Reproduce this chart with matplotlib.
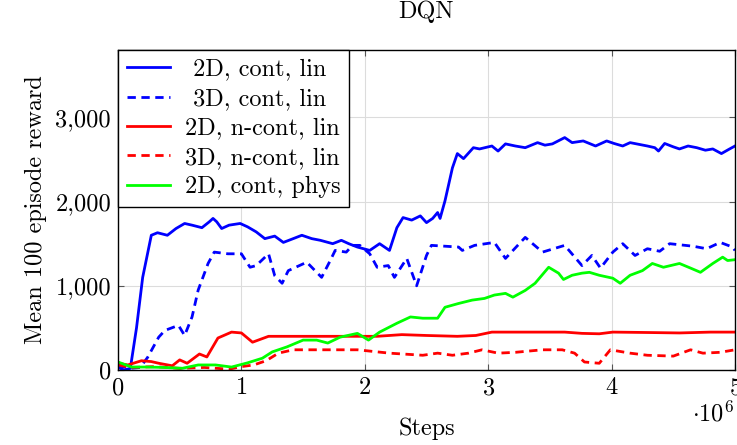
import matplotlib
matplotlib.use("Agg")
import matplotlib.pyplot as plt
from matplotlib.ticker import FuncFormatter

plt.rcParams["font.family"] = ["cmr10", "DejaVu Serif"]
plt.rcParams["mathtext.fontset"] = "cm"
plt.rcParams["axes.unicode_minus"] = False
plt.rcParams["axes.formatter.use_mathtext"] = True

# steps in millions, mean reward
blue2d_x = [0, 0.05, 0.1, 0.15, 0.2, 0.27, 0.32, 0.4, 0.47, 0.54, 0.6, 0.68, 0.74, 0.77, 0.8, 0.84,
            0.9, 0.99, 1.05, 1.12, 1.19, 1.27, 1.34, 1.42, 1.49, 1.57, 1.64, 1.74, 1.81, 1.87, 1.94,
            2.04, 2.12, 2.2, 2.26, 2.31, 2.38, 2.45, 2.5, 2.55, 2.59, 2.61, 2.65, 2.71, 2.75, 2.8,
            2.88, 2.93, 3.03, 3.08, 3.14, 3.22, 3.3, 3.4, 3.46, 3.52, 3.62, 3.68, 3.77, 3.87, 3.96,
            4.02, 4.09, 4.15, 4.22, 4.29, 4.35, 4.38, 4.43, 4.5, 4.55, 4.62, 4.69, 4.76, 4.82, 4.89,
            4.95, 5.0]
blue2d_y = [30, 0, 20, 500, 1100, 1600, 1630, 1600, 1680, 1740, 1720, 1690, 1760, 1800, 1760, 1680,
            1720, 1740, 1700, 1640, 1560, 1590, 1515, 1560, 1600, 1560, 1540, 1500, 1540, 1500, 1460,
            1420, 1500, 1420, 1690, 1810, 1780, 1830, 1750, 1800, 1870, 1800, 2010, 2400, 2570, 2510,
            2640, 2625, 2660, 2600, 2685, 2660, 2640, 2700, 2670, 2685, 2760, 2700, 2720, 2660, 2720,
            2690, 2660, 2700, 2680, 2660, 2640, 2600, 2690, 2650, 2625, 2660, 2640, 2610, 2625, 2570,
            2620, 2660]

blue3d_x = [0, 0.1, 0.18, 0.24, 0.33, 0.38, 0.49, 0.54, 0.6, 0.65, 0.73, 0.78, 0.89, 1.0, 1.07, 1.12,
            1.22, 1.27, 1.33, 1.38, 1.53, 1.65, 1.72, 1.76, 1.85, 1.9, 1.96, 2.04, 2.1, 2.19, 2.24,
            2.34, 2.42, 2.5, 2.54, 2.76, 2.79, 2.89, 3.05, 3.14, 3.3, 3.44, 3.62, 3.76, 3.84, 3.91,
            4.01, 4.09, 4.19, 4.29, 4.39, 4.47, 4.66, 4.77, 4.88, 4.98, 5.0]
blue3d_y = [50, 20, 30, 150, 390, 470, 530, 410, 630, 950, 1265, 1400, 1380, 1380, 1220, 1240,
            1380, 1120, 1030, 1180, 1280, 1100, 1300, 1420, 1400, 1480, 1480, 1380, 1220, 1240, 1100,
            1325, 1000, 1360, 1480, 1460, 1420, 1480, 1515, 1325, 1575, 1400, 1480, 1240, 1360, 1210,
            1400, 1500, 1360, 1440, 1410, 1500, 1470, 1440, 1515, 1460, 1420]

red2d_x = [0, 0.08, 0.19, 0.27, 0.33, 0.44, 0.5, 0.56, 0.66, 0.72, 0.81, 0.92, 1.0, 1.09, 1.22, 1.5,
           1.8, 2.1, 2.3, 2.5, 2.75, 2.9, 3.03, 3.3, 3.62, 3.76, 3.9, 4.01, 4.3, 4.55, 4.8, 5.0]
red2d_y = [80, 60, 110, 100, 80, 50, 120, 80, 190, 155, 380, 450, 440, 330, 400, 400,
           400, 400, 420, 410, 400, 410, 450, 450, 450, 435, 430, 450, 445, 440, 450, 450]

red3d_x = [0, 0.1, 0.3, 0.5, 0.7, 0.9, 1.0, 1.1, 1.2, 1.3, 1.42, 1.94, 2.2, 2.47, 2.59, 2.71, 2.84,
           2.95, 3.08, 3.22, 3.44, 3.6, 3.7, 3.78, 3.9, 3.99, 4.15, 4.29, 4.5, 4.64, 4.74, 4.88, 5.0]
red3d_y = [60, 30, 40, 20, 30, 10, 40, 60, 110, 200, 240, 240, 200, 175, 200, 175, 200,
           240, 200, 210, 240, 240, 200, 95, 80, 240, 200, 175, 165, 240, 200, 210, 240]

green_x = [0, 0.11, 0.24, 0.38, 0.52, 0.65, 0.79, 0.92, 1.05, 1.17, 1.25, 1.37, 1.5, 1.61, 1.7, 1.8,
           1.94, 2.03, 2.12, 2.26, 2.37, 2.47, 2.59, 2.65, 2.76, 2.87, 2.97, 3.05, 3.14, 3.2, 3.3,
           3.38, 3.49, 3.57, 3.61, 3.68, 3.76, 3.82, 3.9, 4.01, 4.07, 4.15, 4.25, 4.33, 4.42, 4.55,
           4.64, 4.72, 4.82, 4.9, 4.94, 5.0]
green_y = [95, 35, 35, 30, 20, 60, 60, 35, 85, 140, 215, 275, 355, 355, 320, 390,
           435, 355, 450, 555, 630, 615, 615, 745, 790, 830, 850, 890, 910, 865, 945,
           1030, 1220, 1150, 1075, 1125, 1150, 1160, 1125, 1090, 1030, 1125, 1180, 1265, 1220, 1265,
           1210, 1160, 1265, 1340, 1300, 1310]

fig = plt.figure(figsize=(7.37, 4.45), dpi=100)
ax = fig.add_axes([118 / 737, 75 / 445, 617 / 737, 320 / 445])

fs = 17.5
lw = 2.0
dash = (3, 2)
# leading space: pgfplots centres the shorter legend entries
ax.plot(blue2d_x, blue2d_y, color="blue", lw=lw, label=" 2D, cont, lin")
ax.plot(blue3d_x, blue3d_y, color="blue", lw=lw, dashes=dash, label=" 3D, cont, lin")
ax.plot(red2d_x, red2d_y, color="red", lw=lw, label="2D, n-cont, lin")
ax.plot(red3d_x, red3d_y, color="red", lw=lw, dashes=dash, label="3D, n-cont, lin")
ax.plot(green_x, green_y, color="#00ff00", lw=lw, label="2D, cont, phys")

ax.set_xlim(0, 5)
ax.set_ylim(0, 3800)
ax.set_xticks([0, 1, 2, 3, 4, 5])
ax.set_yticks([0, 1000, 2000, 3000])
ax.yaxis.set_major_formatter(FuncFormatter(lambda v, p: f"{int(v):,}"))
ax.grid(True, color="#dcdcdc", lw=0.8)
ax.set_axisbelow(True)
ax.tick_params(direction="in", top=True, right=True, length=4, color="#555555",
               labelsize=fs, pad=5)
for s in ax.spines.values():
    s.set_linewidth(1.0)

ax.set_xlabel("Steps", fontsize=fs, labelpad=13)
ax.set_ylabel("Mean 100 episode reward", fontsize=fs, labelpad=6)
fig.text(426 / 737, 1 - 12 / 445, "DQN", ha="center", va="center", fontsize=fs)
fig.text(713 / 737, 1 - 414 / 445, r"$\cdot 10^{6}$", ha="center", va="center", fontsize=fs)

leg = ax.legend(loc="upper left", borderaxespad=0, fontsize=fs, fancybox=False,
                edgecolor="black", framealpha=1, handlelength=1.8, labelspacing=0.3,
                borderpad=0.35, handletextpad=0.6)
leg.get_frame().set_linewidth(1.0)

fig.savefig("out.png", dpi=100)
